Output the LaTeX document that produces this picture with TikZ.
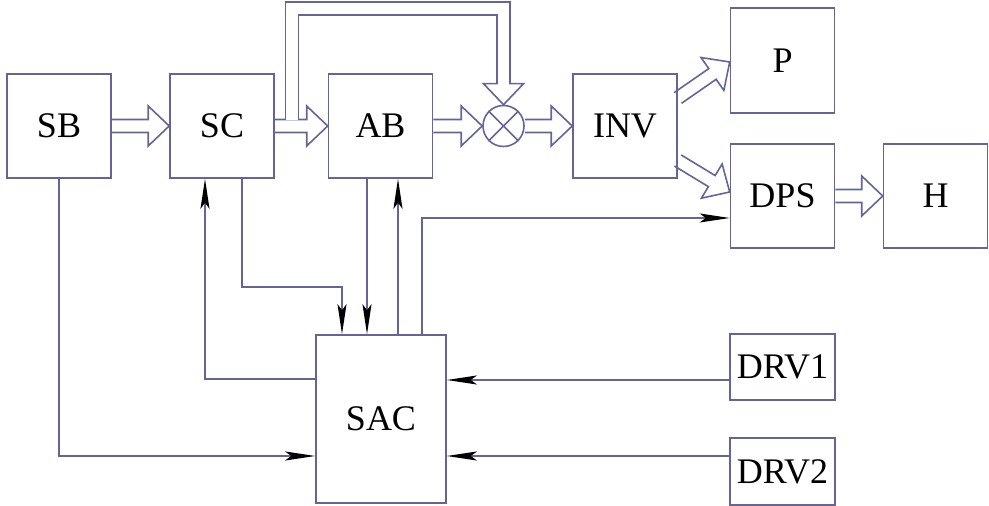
\documentclass[tikz,border=0pt]{standalone}
\usepackage{fontspec}
\setmainfont{Liberation Serif}
\usetikzlibrary{positioning,arrows.meta,calc}

\definecolor{ln}{RGB}{100,100,152}

\tikzset{
  flow/.style={to path={
    ($(\tikztostart)!3.25pt!90:(\tikztotarget)$)
    -- ($(\tikztotarget)!10.5pt!(\tikztostart)!3.25pt!90:(\tikztotarget)$)
    -- ($(\tikztotarget)!10.5pt!(\tikztostart)!10pt!90:(\tikztotarget)$)
    -- (\tikztotarget)
    -- ($(\tikztotarget)!10.5pt!(\tikztostart)!10pt!-90:(\tikztotarget)$)
    -- ($(\tikztotarget)!10.5pt!(\tikztostart)!3.25pt!-90:(\tikztotarget)$)
    -- ($(\tikztostart)!3.25pt!-90:(\tikztotarget)$)
  }}
}

\begin{document}
\begin{tikzpicture}[
    x=0.5pt, y=-0.5pt,
    line width=0.8pt,
    every node/.style={font=\fontsize{18}{20}\selectfont},
    blk/.style={draw=ln, minimum width=52pt, minimum height=52pt, inner sep=0pt},
    drv/.style={blk, minimum width=52.5pt, minimum height=33pt},
    sig/.style={draw=ln, -{Stealth[length=15pt, width=4.5pt, inset=3pt, black]}},
    blockarrow/.style={draw=ln, flow},
    dbl/.style={draw=ln, double=white, double distance=5.7pt}
]
\useasboundingbox (0,0) rectangle (989,506);

% main chain
\node[blk] (sb) at (59,126) {SB};
\node[blk] (sc) at (222,126) {SC};
\node[blk] (ab) at (380.5,126) {AB};
\node[draw=ln, circle, minimum size=20.5pt, inner sep=0pt] (sum) at (503.5,126) {};
\node[blk] (inv) at (625,126) {INV};
\node[blk, minimum height=52.5pt] (p) at (782.5,60.5) {P};
\node[blk] (dps) at (782.5,196) {DPS};
\node[blk] (h) at (935.5,196) {H};

% control part
\node[blk, minimum width=65pt, minimum height=84pt] (sac) at (381,419) {SAC};
\node[drv] (drv1) at (782.5,367) {DRV1};
\node[drv, minimum height=33.5pt] (drv2) at (782.5,471.5) {DRV2};

\draw[ln] (sum.45) -- (sum.225);
\draw[ln] (sum.135) -- (sum.315);

% power flow
\draw[blockarrow] (sb.east) to (sc.west);
\draw[blockarrow] (sc.east) to (ab.west);
\draw[blockarrow] (ab.east) to (sum.west);
\draw[blockarrow] (sum.east) to (inv.west);
\draw[blockarrow] (dps.east) to (h.west);
\coordinate (invp) at ($(inv.east)+(0,-28)$);
\coordinate (invd) at ($(inv.east)+(0,34.5)$);
\coordinate (pin) at ($(p.west)+(0,1.5)$);
\coordinate (din) at ($(dps.west)+(0,-4)$);
\draw[blockarrow] (invp) to (pin);
\draw[blockarrow] (invd) to (din);

% feedback to the mixer
\coordinate (fb0) at ($(sc.east)+(17,-6)$);
\coordinate (fb1) at ($(sum.north)+(0,-96)$);
\coordinate (fb2) at ($(sum.north)+(0,-44)$);
\draw[dbl] (fb0) |- (fb1) -- (fb2);
\draw[blockarrow] (fb2) to (sum.north);

% signals
\draw[sig] (sb.south) |- ($(sac.west)+(0,37)$);
\draw[sig] ($(sc.south)+(20,0)$) |- ($(sac.north)+(-39,-47)$) -- ($(sac.north)+(-39,0)$);
\draw[sig] ($(ab.south)+(-13.5,0)$) -- ($(sac.north)+(-14,0)$);
\draw[sig] ($(sac.north)+(17,0)$) -- ($(ab.south)+(17.5,0)$);
\draw[sig] ($(sac.north)+(41,0)$) |- ($(dps.west)+(0,22)$);
\draw[sig] ($(sac.west)+(0,-40)$) -| ($(sc.south)+(-17,0)$);
\draw[sig] ($(drv1.west)+(0,13)$) -- ($(sac.east)+(0,-39)$);
\draw[sig] ($(drv2.west)+(0,-15.5)$) -- ($(sac.east)+(0,37)$);

\end{tikzpicture}
\end{document}
